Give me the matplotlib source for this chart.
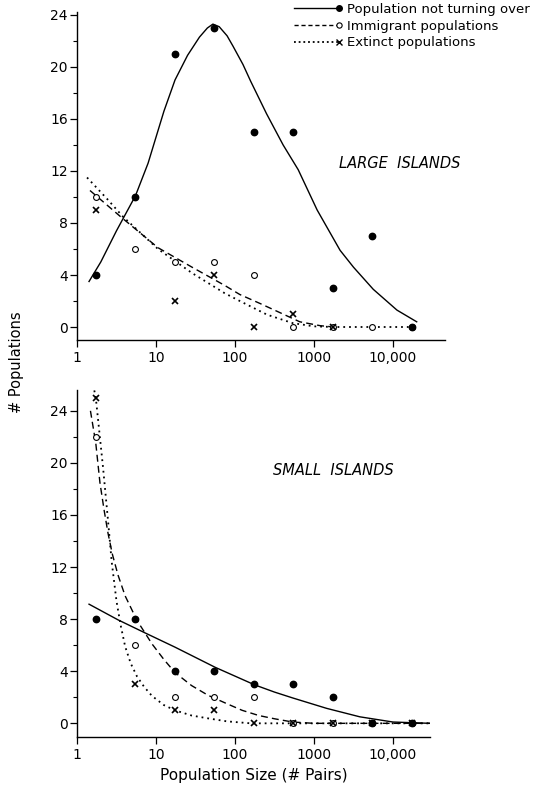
import numpy as np
import matplotlib
matplotlib.use("Agg")
import matplotlib.pyplot as plt
from matplotlib.lines import Line2D
from matplotlib.legend_handler import HandlerLine2D
from matplotlib.ticker import FixedLocator, FixedFormatter, MultipleLocator, NullLocator

plt.rcParams['font.family'] = ['DejaVu Sans']

# tamaños de población (pares), centros geométricos de las clases
size_x = [1.73, 5.48, 17.3, 54.8, 173, 548, 1732, 5477, 17320]

# islas grandes - puntos observados
large_stable = [4, 10, 21, 23, 15, 15, 3, 7, 0]
large_immig = [10, 6, 5, 5, 4, 0, 0, 0, 0]
large_extinct = [9, np.nan, 2, 4, 0, 1, 0, np.nan, np.nan]

# islas grandes - curvas ajustadas
large_stable_cx = [1.42, 2.0, 3.16, 5.5, 7.94, 10, 12.6, 17.4, 25.1, 35.5, 44.7, 52.5, 63.1, 79.4, 94.4, 126, 158,
                   251, 407, 631, 1096, 2138, 3162, 5623, 11220, 19950]
large_stable_cy = [3.5, 5.0, 7.4, 10.1, 12.6, 14.6, 16.6, 19.0, 20.9, 22.3, 23.0, 23.3, 23.1, 22.4, 21.6, 20.2, 18.9,
                   16.4, 14.0, 12.1, 9.0, 5.9, 4.6, 2.9, 1.3, 0.4]
large_immig_cx = [1.46, 3.7, 10.6, 28.6, 74, 115, 209, 372, 661, 1202, 1778]
large_immig_cy = [10.5, 8.4, 6.1, 4.6, 3.2, 2.5, 1.8, 1.1, 0.4, 0.1, 0.0]
large_extinct_cx = [1.34, 2.45, 3.8, 10.6, 28.6, 74, 115, 254, 537, 1000, 1778, 17320]
large_extinct_cy = [11.5, 9.8, 8.5, 6.0, 4.15, 2.6, 2.0, 0.95, 0.3, 0.05, 0.0, 0.0]

# islas pequeñas - puntos observados
small_stable = [8, 8, 4, 4, 3, 3, 2, 0, 0]
small_immig = [22, 6, 2, 2, 2, 0, 0, 0, 0]
small_extinct = [25, 3, 1, 1, 0, 0, 0, 0, 0]

# islas pequeñas - curvas ajustadas
small_stable_cx = [1.42, 3.3, 7.24, 17.4, 56.2, 178, 316, 537, 1445, 3802, 10000, 29500]
small_stable_cy = [9.15, 7.95, 6.95, 5.85, 4.3, 2.95, 2.4, 1.95, 1.15, 0.5, 0.1, 0.0]
small_immig_cx = [1.48, 1.73, 1.95, 2.2, 2.47, 2.8, 3.3, 4.06, 5.75, 8.9, 12.6, 17.4, 28.2, 45.7, 79.4, 123, 200,
                  316, 537, 1000, 29500]
small_immig_cy = [24.0, 21.5, 18.5, 16.4, 14.6, 13.0, 11.4, 9.8, 7.9, 6.1, 4.9, 3.9, 2.9, 2.15, 1.5, 1.0, 0.6,
                  0.35, 0.1, 0.0, 0.0]
small_extinct_cx = [1.6, 1.73, 2.14, 2.45, 2.75, 3.16, 3.55, 4.07, 4.79, 5.75, 7.08, 8.91, 12.6, 17.4, 28.2, 45.7,
                    79.4, 158, 29500]
small_extinct_cy = [26, 25, 19.6, 15.8, 12.4, 9.4, 7.6, 5.9, 4.6, 3.6, 2.8, 2.1, 1.4, 1.0, 0.6, 0.38, 0.15, 0.0, 0.0]

xticks = [1, 10, 100, 1000, 10000]
xtick_labels = ["1", "10", "100", "1000", "10,000"]
yticks = [0, 4, 8, 12, 16, 20, 24]

legend_labels = ["Population not turning over", "Immigrant populations", "Extinct populations"]


class EndMarker(HandlerLine2D):
    # marcador sólo al final derecho de la línea
    def create_artists(self, legend, orig_handle, xdescent, ydescent, width, height, fontsize, trans):
        arts = super().create_artists(legend, orig_handle, xdescent, ydescent, width, height, fontsize, trans)
        for a in arts:
            a.set_markevery([2])
        return arts


W, H = 537, 787
fig = plt.figure(figsize=(W / 100, H / 100), dpi=100)
ax1 = fig.add_axes([77 / W, 1 - 340 / H, 368 / W, 327.6 / H])
ax2 = fig.add_axes([77 / W, 1 - 737 / H, 353 / W, 347 / H])

lw = 1.0
dash_style = (0, (5, 3))
dot_style = (0, (1, 2.2))


def draw_panel(ax, stable, immig, extinct, scx, scy, icx, icy, ecx, ecy):
    ax.plot(scx, scy, color="black", lw=lw, ls="-", zorder=2)
    ax.plot(icx, icy, color="black", lw=lw, ls=dash_style, zorder=2)
    ax.plot(ecx, ecy, color="black", lw=1.3, ls=dot_style, zorder=2)
    ax.plot(size_x, immig, ls="none", marker="o", ms=4.2, mfc="white", mec="black", mew=0.8, zorder=3)
    ax.plot(size_x, extinct, ls="none", marker="x", ms=5, mec="black", mew=1.2, zorder=4)
    ax.plot(size_x, stable, ls="none", marker="o", ms=4.6, mfc="black", mec="black", zorder=5)

    ax.set_xscale("log")
    ax.xaxis.set_major_locator(FixedLocator(xticks))
    ax.xaxis.set_major_formatter(FixedFormatter(xtick_labels))
    ax.xaxis.set_minor_locator(NullLocator())
    ax.yaxis.set_major_locator(FixedLocator(yticks))
    ax.yaxis.set_minor_locator(MultipleLocator(2))
    for s in ["top", "right"]:
        ax.spines[s].set_visible(False)
    for s in ["left", "bottom"]:
        ax.spines[s].set_linewidth(1.0)
    ax.tick_params(axis="both", which="major", direction="out", length=5, width=0.9, labelsize=10)
    ax.tick_params(axis="x", which="major", pad=3)
    ax.tick_params(axis="y", which="major", pad=1.5)
    ax.tick_params(axis="y", which="minor", direction="out", length=3, width=0.8)


draw_panel(ax1, large_stable, large_immig, large_extinct,
           large_stable_cx, large_stable_cy, large_immig_cx, large_immig_cy, large_extinct_cx, large_extinct_cy)
ax1.set_xlim(1, 10 ** (368 / 79))
ax1.set_ylim(-1, 24.2)
ax1.text(0.878, 0.54, "LARGE  ISLANDS", transform=ax1.transAxes, ha="center", va="center",
         fontsize=10.5, style="italic")

draw_panel(ax2, small_stable, small_immig, small_extinct,
           small_stable_cx, small_stable_cy, small_immig_cx, small_immig_cy, small_extinct_cx, small_extinct_cy)
ax2.set_xlim(1, 10 ** (353 / 79))
ax2.set_ylim(-1.05, 25.6)
ax2.text(0.725, 0.769, "SMALL  ISLANDS", transform=ax2.transAxes, ha="center", va="center",
         fontsize=10.5, style="italic")

ax2.set_xlabel("Population Size (# Pairs)", fontsize=11, labelpad=4.5)
fig.text(17 / W, 1 - 362 / H, "# Populations", rotation=90, ha="center", va="center", fontsize=10.5)

# leyenda con el marcador al final de la línea
handles = [
    Line2D([], [], color="black", lw=lw, ls="-", marker="o", ms=4, mfc="black"),
    Line2D([], [], color="black", lw=lw, ls=(0, (3, 2)), marker="o", ms=3.8, mfc="white", mew=0.8),
    Line2D([], [], color="black", lw=1.3, ls=(0, (1, 1.6)), marker="x", ms=4.5, mew=1.0),
]
fig.legend(handles, legend_labels, loc="upper left", bbox_to_anchor=(294 / W, 1 - 3 / H), frameon=False,
           numpoints=1, handlelength=3.4, handletextpad=0.6, labelspacing=0.27, borderpad=0, borderaxespad=0,
           fontsize=9.5, handler_map={Line2D: EndMarker()})

fig.savefig("out.png", dpi=100)
